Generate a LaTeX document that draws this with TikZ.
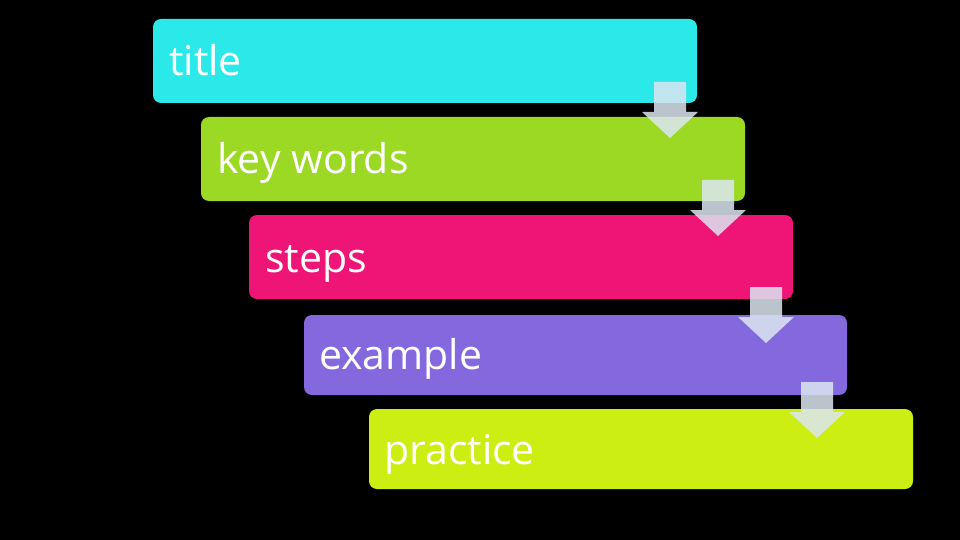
\documentclass[tikz,border=0pt]{standalone}
\usepackage{fontspec}
\setmainfont{Open Sans}
\definecolor{cTitle}{HTML}{2BE9E9}
\definecolor{cKey}{HTML}{9BD925}
\definecolor{cSteps}{HTML}{EE1577}
\definecolor{cExample}{HTML}{8468DD}
\definecolor{cPractice}{HTML}{CCEE12}
\definecolor{cArrow}{HTML}{DCE6F2}
\begin{document}
\begin{tikzpicture}[x=1pt,y=-1pt,
  bar/.style={rounded corners=8pt},
  lbl/.style={anchor=base west,inner sep=0pt,text=white,font=\fontsize{41}{48}\selectfont},
  downarrow/.style={fill=cArrow,fill opacity=0.85}]
\fill[black] (0,0) rectangle (960,540);
\useasboundingbox (0,0) rectangle (960,540);
% bars
\fill[cTitle,bar] (153,19) rectangle (697,103);
\fill[cKey,bar] (201,117) rectangle (745,201);
\fill[cSteps,bar] (249,215) rectangle (793,299);
\fill[cExample,bar] (304,315) rectangle (847,395);
\fill[cPractice,bar] (369,409) rectangle (913,489);
% labels
\node[lbl] (t1) at (169,76) {title};
\node[lbl] (t2) at (217,174) {key words};
\node[lbl] (t3) at (265,272) {steps};
\node[lbl] (t4) at (319,369) {example};
\node[lbl] (t5) at (384,464) {practice};
% arrows
\foreach \x/\y in {670/82, 718/180, 766/287, 817/382}{
  \fill[downarrow] (\x-16,\y) -- (\x+16,\y) -- (\x+16,\y+30) -- (\x+28,\y+30)
     -- (\x,\y+56) -- (\x-28,\y+30) -- (\x-16,\y+30) -- cycle;
}
\end{tikzpicture}
\end{document}
